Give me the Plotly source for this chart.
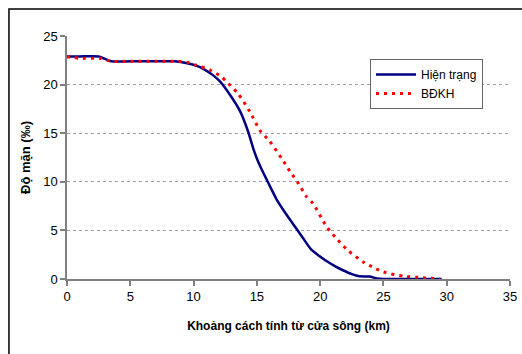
import plotly.graph_objects as go

# Hiện trạng (current state)
x_ht = [0, 1, 2.5, 3.5, 5, 7, 8.5, 9.5, 10.3, 10.8, 11.5, 12.1, 12.9, 13.7, 14.3, 14.7, 15.0, 15.3,
        15.9, 16.6, 17.2, 18.0, 18.6, 19.25, 19.8, 20.5, 21.2, 21.8, 22.5, 23.1, 23.9, 24.5, 25, 27, 29.6]
y_ht = [22.9, 22.9, 22.9, 22.4, 22.4, 22.4, 22.4, 22.2, 21.9, 21.6, 21.0, 20.3, 18.9, 17.2, 15.2, 13.5, 12.4, 11.5,
        9.9, 8.1, 6.9, 5.4, 4.3, 3.1, 2.5, 1.85, 1.3, 0.9, 0.5, 0.28, 0.25, 0.05, 0, 0, 0]

# BĐKH (climate change scenario)
x_bd = [0, 0.5, 1, 2.6, 3.5, 5, 7, 8.5, 9.5, 10.2, 11.3, 12.2, 12.6, 13.5, 14.45, 15.24, 16.0, 16.96,
        17.6, 18.3, 18.9, 19.45, 20.5, 21.2, 22.1, 23.4, 24.2, 25.0, 26.6, 28.1, 29.5]
y_bd = [22.85, 22.8, 22.7, 22.7, 22.4, 22.4, 22.4, 22.4, 22.3, 22.0, 21.5, 20.8, 20.3, 19.1, 17.2, 15.3, 14.2, 12.4,
        11.1, 9.8, 8.5, 7.75, 5.4, 4.3, 3.05, 1.75, 1.2, 0.72, 0.28, 0.14, 0.0]

x_ticks = [0, 5, 10, 15, 20, 25, 30, 35]
y_ticks = [0, 5, 10, 15, 20, 25]

FONT = "Liberation Sans, Arial, sans-serif"

fig = go.Figure()
fig.add_trace(go.Scatter(x=x_ht, y=y_ht, mode="lines", name="Hiện trạng",
                         line=dict(color="#000080", width=2.5, shape="spline", smoothing=0.6)))
fig.add_trace(go.Scatter(x=x_bd, y=y_bd, mode="lines", name="BĐKH",
                         line=dict(color="#ff0000", width=3, dash="3px,5px", shape="spline", smoothing=0.6)))

fig.update_layout(
    width=522, height=354,
    margin=dict(l=67, r=12, t=36, b=75, autoexpand=False),
    paper_bgcolor="white", plot_bgcolor="white",
    font=dict(family=FONT, size=13, color="black"),
    showlegend=True,
    legend=dict(x=0.684, y=0.905, xanchor="left", yanchor="top",
                bordercolor="#666666", borderwidth=1, bgcolor="white",
                font=dict(size=12), itemwidth=40, tracegroupgap=2),
    xaxis=dict(range=[0, 35], tickvals=x_ticks, showgrid=False, zeroline=False, automargin=False,
               showline=True, linecolor="#808080", linewidth=1.5,
               ticks="outside", ticklen=5, tickcolor="#808080", tickwidth=1.5,
               title=dict(text="<b>Khoảng cách tính từ cửa sông (km)</b>", font=dict(size=12), standoff=18)),
    yaxis=dict(range=[0, 25], tickvals=y_ticks, showgrid=True, gridcolor="#a0a0a0", gridwidth=1,
               griddash="3px,3px", zeroline=False, automargin=False,
               showline=True, linecolor="#808080", linewidth=1.5,
               ticks="outside", ticklen=5, tickcolor="#808080", tickwidth=1.5,
               title=dict(text="<b>Độ mặn (‰)</b>", font=dict(size=13), standoff=10)),
    shapes=[
        dict(type="rect", xref="paper", yref="paper", x0=-0.131, x1=1.3, y0=-0.5, y1=1.111,
             line=dict(color="black", width=1.5), fillcolor="rgba(0,0,0,0)", layer="above"),
    ],
)

fig.write_html("out.html", config={"displayModeBar": False},
               post_script="document.body.style.margin='0';document.body.style.padding='0';")
